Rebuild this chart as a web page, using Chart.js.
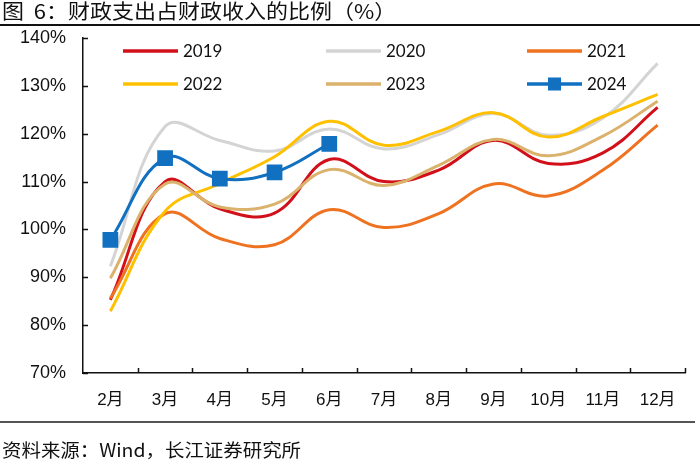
<!DOCTYPE html>
<html>
<head>
<meta charset="utf-8">
<script src="https://cdn.jsdelivr.net/npm/chart.js@4.4.0/dist/chart.umd.min.js"></script>
<style>
  html, body { margin: 0; padding: 0; background: #fff; }
  #wrap { position: relative; width: 700px; height: 463px; overflow: hidden; background: #fff; }
  #c { position: absolute; left: 0; top: 0; }
  #title { position: absolute; left: 2px; top: -1px; font-family: "Noto Sans CJK SC", sans-serif; font-size: 20px; line-height: 24px; color: #111; white-space: pre; transform: scaleX(1.1); transform-origin: left top; }
  #tline { position: absolute; left: 0; top: 24px; width: 700px; height: 2px; background: #111; }
  #fline { position: absolute; left: 0; top: 421px; width: 695px; height: 2px; background: #555; }
  #foot { position: absolute; left: 2px; top: 437px; font-family: "Noto Sans CJK SC", sans-serif; font-size: 18px; line-height: 24px; color: #111; white-space: nowrap; transform: scaleX(1.08); transform-origin: left top; }
</style>
</head>
<body>
<div id="wrap">
  <canvas id="c" width="700" height="463"></canvas>
  <div id="title">图  6：财政支出占财政收入的比例（%）</div>
  <div id="tline"></div>
  <div id="fline"></div>
  <div id="foot">资料来源：Wind，长江证券研究所</div>
</div>
<script>
const months = ['2月','3月','4月','5月','6月','7月','8月','9月','10月','11月','12月'];
const seriesNames = ['2019','2020','2021','2022','2023','2024'];
const s2019 = [85.3, 110.0, 104.3, 103.4, 114.6, 110.0, 112.4, 118.6, 113.8, 116.0, 125.5];
const s2020 = [92.3, 121.5, 118.6, 116.4, 121.0, 116.8, 119.8, 124.2, 119.7, 123.3, 134.7];
const s2021 = [85.6, 103.3, 98.1, 96.8, 104.1, 100.4, 103.3, 109.5, 107.0, 112.4, 121.8];
const s2022 = [82.9, 103.8, 109.6, 115.2, 122.6, 117.6, 120.5, 124.4, 119.3, 123.6, 128.2];
const s2023 = [89.8, 109.5, 104.7, 105.3, 112.5, 109.2, 113.4, 118.8, 115.4, 119.5, 126.8];
const s2024 = [97.8, 114.9, 110.6, 111.9, 117.9];
const yTicks = [70, 80, 90, 100, 110, 120, 130, 140];

const colors = ['#D2101A', '#D4D4D4', '#EE7220', '#FFC000', '#DBB26C', '#1170BF'];
const allData = [s2019, s2020, s2021, s2022, s2023, s2024];

const datasets = allData.map((d, i) => ({
  label: seriesNames[i],
  data: d,
  borderColor: colors[i],
  backgroundColor: colors[i],
  borderWidth: 3,
  tension: 0.4,
  fill: false,
  pointRadius: i === 5 ? 9 : 0,
  pointHoverRadius: i === 5 ? 9 : 0,
  pointStyle: 'rect',
  order: i === 5 ? 0 : 6 - i
}));

const legendPos = [
  {x: 123, y: 51}, {x: 326, y: 51}, {x: 527, y: 51},
  {x: 123, y: 84}, {x: 326, y: 84}, {x: 527, y: 84}
];

const legendPlugin = {
  id: 'customLegend',
  afterDraw(chart) {
    const ctx = chart.ctx;
    ctx.save();
    ctx.font = '17px Lato, "Liberation Sans", sans-serif';
    ctx.textBaseline = 'middle';
    ctx.textAlign = 'left';
    seriesNames.forEach((name, i) => {
      const p = legendPos[i];
      ctx.strokeStyle = colors[i];
      ctx.lineWidth = 3.5;
      ctx.beginPath();
      ctx.moveTo(p.x, p.y);
      ctx.lineTo(p.x + 55, p.y);
      ctx.stroke();
      if (i === 5) {
        ctx.fillStyle = colors[i];
        ctx.fillRect(p.x + 27.5 - 6.5, p.y - 6.5, 13, 13);
      }
      ctx.fillStyle = '#111';
      ctx.fillText(name, p.x + 60, p.y + 1);
    });
    ctx.restore();
  }
};

const tickPlugin = {
  id: 'innerTicks',
  afterDraw(chart) {
    const ctx = chart.ctx;
    const xs = chart.scales.x, ys = chart.scales.y;
    ctx.save();
    ctx.strokeStyle = '#111';
    ctx.lineWidth = 1.5;
    ctx.beginPath();
    ys.ticks.forEach((t, i) => {
      const y = Math.round(ys.getPixelForTick(i)) + 0.5;
      ctx.moveTo(xs.left, y);
      ctx.lineTo(xs.left + 5, y);
    });
    const n = months.length;
    const w = (xs.right - xs.left) / n;
    for (let i = 1; i <= n; i++) {
      const x = Math.round(xs.left + i * w) + 0.5;
      ctx.moveTo(x, ys.bottom);
      ctx.lineTo(x, ys.bottom - 5);
    }
    ctx.stroke();
    ctx.restore();
  }
};

new Chart(document.getElementById('c'), {
  type: 'line',
  data: { labels: months, datasets },
  options: {
    responsive: false,
    animation: false,
    devicePixelRatio: 1,
    layout: { padding: { top: 38, right: 15, left: 0, bottom: 0 } },
    plugins: { legend: { display: false }, tooltip: { enabled: false } },
    scales: {
      x: {
        offset: true,
        grid: { display: false, drawTicks: false },
        border: { display: true, color: '#111', width: 1.5 },
        ticks: { color: '#111', padding: 17, font: { size: 17, family: '"Liberation Sans", "Noto Sans CJK SC", sans-serif' } },
        afterFit(scale) { scale.height = 90; }
      },
      y: {
        min: 70, max: 140,
        afterBuildTicks(scale) { scale.ticks = yTicks.map(v => ({ value: v })); },
        grid: { display: false, drawTicks: false },
        border: { display: true, color: '#111', width: 1.5 },
        ticks: { color: '#111', padding: 17, font: { size: 18, family: '"Liberation Sans", sans-serif' }, callback: v => v + '%' },
        afterFit(scale) { scale.width = 83; }
      }
    }
  },
  plugins: [legendPlugin, tickPlugin]
});
</script>
</body>
</html>
